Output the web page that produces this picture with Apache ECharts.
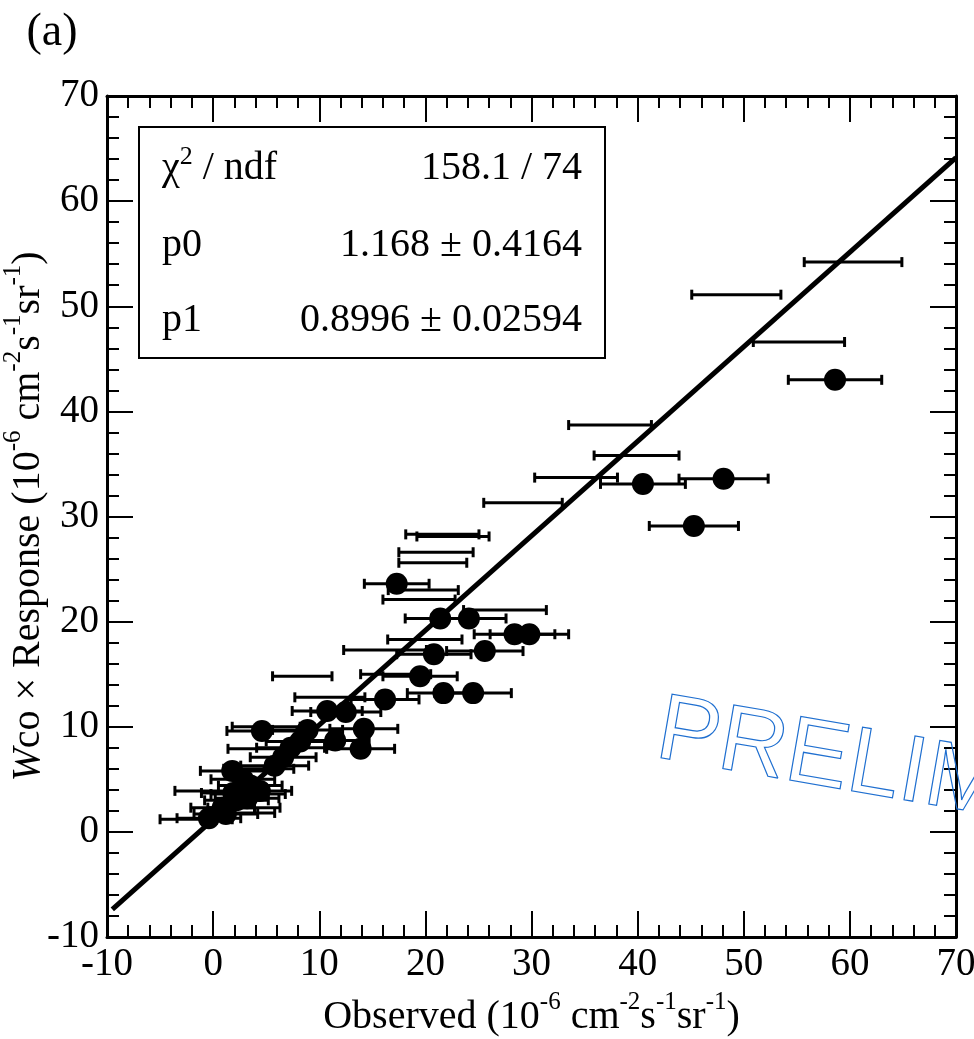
<!DOCTYPE html>
<html><head><meta charset="utf-8">
<script src="https://cdn.jsdelivr.net/npm/echarts@6/dist/echarts.min.js"></script>
<style>html,body{margin:0;padding:0;background:#fff}#c{width:974px;height:1039px}</style>
</head><body><div id="c"></div>
<script>
// ---- data ----
// points drawn with a marker and a horizontal error bar
const dotX   = [58.6, 48.1, 40.5, 45.3, 17.3, 21.4, 24.1, 28.4, 29.8, 20.8, 25.6, 19.5, 21.7, 24.5, 16.2, 10.75, 12.5, 14.2, 13.9, 11.5, 4.6, 8.9, 7.3, 5.8, 1.8, 1.9, 4.4, 3.2, -0.4, 1.2, 2.8, 3.5, 2.2, 0.9, 6.6, 8.2];
const dotY   = [43.0, 33.6, 33.1, 29.1, 23.6, 20.3, 20.3, 18.8, 18.8, 16.9, 17.2, 14.8, 13.2, 13.2, 12.6, 11.5, 11.4, 9.8, 7.9, 8.7, 9.6, 9.7, 8.0, 6.3, 5.8, 3.7, 3.9, 3.2, 1.3, 1.7, 5.0, 4.4, 3.0, 2.3, 7.1, 8.6];
const dotErr = [4.4, 4.2, 4.0, 4.2, 3.05, 3.3, 3.5, 3.8, 3.7, 3.5, 3.6, 3.5, 3.4, 3.6, 3.2, 3.3, 3.3, 3.2, 3.2, 3.2, 3.3, 3.3, 3.2, 3.2, 3.0, 3.0, 3.0, 3.0, 3.0, 3.0, 3.0, 3.0, 3.0, 3.0, 3.1, 3.2];
// points whose marker is not drawn (error bar only)
const barX   = [60.3, 49.3, 55.2, 37.4, 39.9, 34.2, 29.2, 21.6, 22.6, 21.0, 20.7, 19.8, 19.4, 27.5, 19.95, 16.2, 8.4, 17.2, 11.0, 5.0, 4.6, 0.0, 3.3, -1.6, 2.9, 2.6, 4.3];
const barY   = [54.2, 51.1, 46.6, 38.7, 35.8, 33.7, 31.3, 28.3, 28.1, 26.6, 25.6, 23.0, 22.1, 21.1, 18.3, 17.3, 14.8, 15.0, 12.8, 10.0, 7.9, 3.9, 3.6, 1.2, 2.3, 1.8, 6.0];
const barErr = [4.6, 4.2, 4.3, 3.9, 4.0, 3.9, 3.7, 3.45, 3.4, 3.5, 3.2, 3.3, 3.4, 3.9, 3.5, 3.9, 2.8, 3.3, 3.3, 3.2, 3.2, 3.6, 3.5, 3.4, 3.4, 3.2, 3.3];
// fit: y = p0 + p1 * x
const fitP0 = 1.168, fitP1 = 0.8996;
const fitRange = [-9.5, 70];
const statNames  = ['{a|χ}{s|2}{a| / ndf}', '{a|p0}', '{a|p1}'];
const statValues = ['158.1 / 74', '1.168 ± 0.4164', '0.8996 ± 0.02594'];
const panelLabel = '(a)';
const watermark = 'PRELIMINARY';
const axisMin = -10, axisMax = 70, axisStep = 10;

// ---- chart ----
const SERIF = '"Liberation Serif", "Times New Roman", serif';
const chart = echarts.init(document.getElementById('c'), null, {renderer: 'canvas'});

function renderErr(params, api) {
  const x = api.value(0), y = api.value(1), e = api.value(2);
  const a = api.coord([x - e, y]), b = api.coord([x + e, y]);
  const cap = 5;
  const st = {stroke: '#000', lineWidth: 3};
  return {type: 'group', children: [
    {type: 'line', shape: {x1: a[0], y1: a[1], x2: b[0], y2: b[1]}, style: st},
    {type: 'line', shape: {x1: a[0], y1: a[1] - cap, x2: a[0], y2: a[1] + cap}, style: st},
    {type: 'line', shape: {x1: b[0], y1: b[1] - cap, x2: b[0], y2: b[1] + cap}, style: st}
  ]};
}

const supRich = {
  n: {fontFamily: SERIF, fontSize: 40, color: '#000', lineHeight: 54, verticalAlign: 'middle'},
  i: {fontFamily: SERIF, fontSize: 40, color: '#000', lineHeight: 54, fontStyle: 'italic', verticalAlign: 'middle'},
  s: {fontFamily: SERIF, fontSize: 25, color: '#000', lineHeight: 25, verticalAlign: 'top'}
};

function mkAxis(pos, showLabel, extra) {
  return Object.assign({
    type: 'value', min: axisMin, max: axisMax, interval: axisStep, position: pos,
    axisLine: {show: true, onZero: false, lineStyle: {color: '#000', width: 3}},
    axisTick: {show: true, inside: true, length: 26, lineStyle: {color: '#000', width: 2}},
    minorTick: {show: true, splitNumber: 5, length: 12, lineStyle: {color: '#000', width: 2}},
    splitLine: {show: false}, minorSplitLine: {show: false},
    axisLabel: {show: showLabel, fontFamily: SERIF, fontSize: 39, color: '#000', margin: 8,
                showMinLabel: true, showMaxLabel: true}
  }, extra || {});
}

const fitData = fitRange.map(x => [x, fitP0 + fitP1 * x]);

const statGraphics = [];
statGraphics.push({type: 'rect', z: 10, shape: {x: 139, y: 127, width: 466, height: 231},
  style: {fill: '#fff', stroke: '#000', lineWidth: 2}});
const rowY = [168, 245, 320];
statNames.forEach((t, k) => {
  statGraphics.push({type: 'text', z: 11, x: 162, y: rowY[k], style: {
    text: t, align: 'left', verticalAlign: 'middle',
    rich: {a: {fontFamily: SERIF, fontSize: 40, fill: '#000', lineHeight: 48, verticalAlign: 'middle'},
           s: {fontFamily: SERIF, fontSize: 26, fill: '#000', lineHeight: 26, verticalAlign: 'top'}}
  }});
  statGraphics.push({type: 'text', z: 11, x: 582, y: rowY[k], style: {
    text: statValues[k], align: 'right', verticalAlign: 'middle',
    font: '40px ' + SERIF, fill: '#000'
  }});
});

chart.setOption({
  animation: false,
  backgroundColor: '#fff',
  grid: {left: 107, right: 18, top: 96, bottom: 102, containLabel: false, outerBoundsMode: 'none'},
  xAxis: [
    mkAxis('bottom', true, {
      name: '{n|Observed (10}{s|-6}{n| cm}{s|-2}{n|s}{s|-1}{n|sr}{s|-1}{n|)}',
      nameLocation: 'middle', nameGap: 53, nameMoveOverlap: false,
      nameTextStyle: {rich: supRich}
    }),
    mkAxis('top', false)
  ],
  yAxis: [
    mkAxis('left', true, {
      name: '{i|W}{n|co × Response (10}{s|-6}{n| cm}{s|-2}{n|s}{s|-1}{n|sr}{s|-1}{n|)}',
      nameLocation: 'middle', nameGap: 52, nameRotate: 90, nameMoveOverlap: false,
      nameTextStyle: {rich: supRich}
    }),
    mkAxis('right', false)
  ],
  series: [
    {type: 'custom', name: 'bars', renderItem: renderErr, z: 2,
     encode: {x: 0, y: 1},
     data: barX.map((x, k) => [x, barY[k], barErr[k]])},
    {type: 'custom', name: 'dotbars', renderItem: renderErr, z: 2,
     encode: {x: 0, y: 1},
     data: dotX.map((x, k) => [x, dotY[k], dotErr[k]])},
    {type: 'scatter', name: 'dots', symbol: 'circle', symbolSize: 22, z: 3,
     itemStyle: {color: '#000', opacity: 1},
     data: dotX.map((x, k) => [x, dotY[k]])},
    {type: 'line', name: 'fit', showSymbol: false, z: 4,
     lineStyle: {color: '#000', width: 5},
     data: fitData}
  ],
  graphic: [
    {type: 'text', x: 52, y: 33, z: 20, style: {text: panelLabel, font: '46px ' + SERIF, fill: '#000',
      align: 'center', verticalAlign: 'middle'}},
    {type: 'text', x: 658, y: 731, rotation: -0.171, z: 1, silent: true, style: {
      text: watermark, font: '94px "Liberation Sans", Arial, sans-serif',
      fill: 'rgba(0,0,0,0)', stroke: '#1f6fd0', lineWidth: 1.2,
      align: 'left', verticalAlign: 'middle'}}
  ].concat(statGraphics)
});
</script>
</body></html>
